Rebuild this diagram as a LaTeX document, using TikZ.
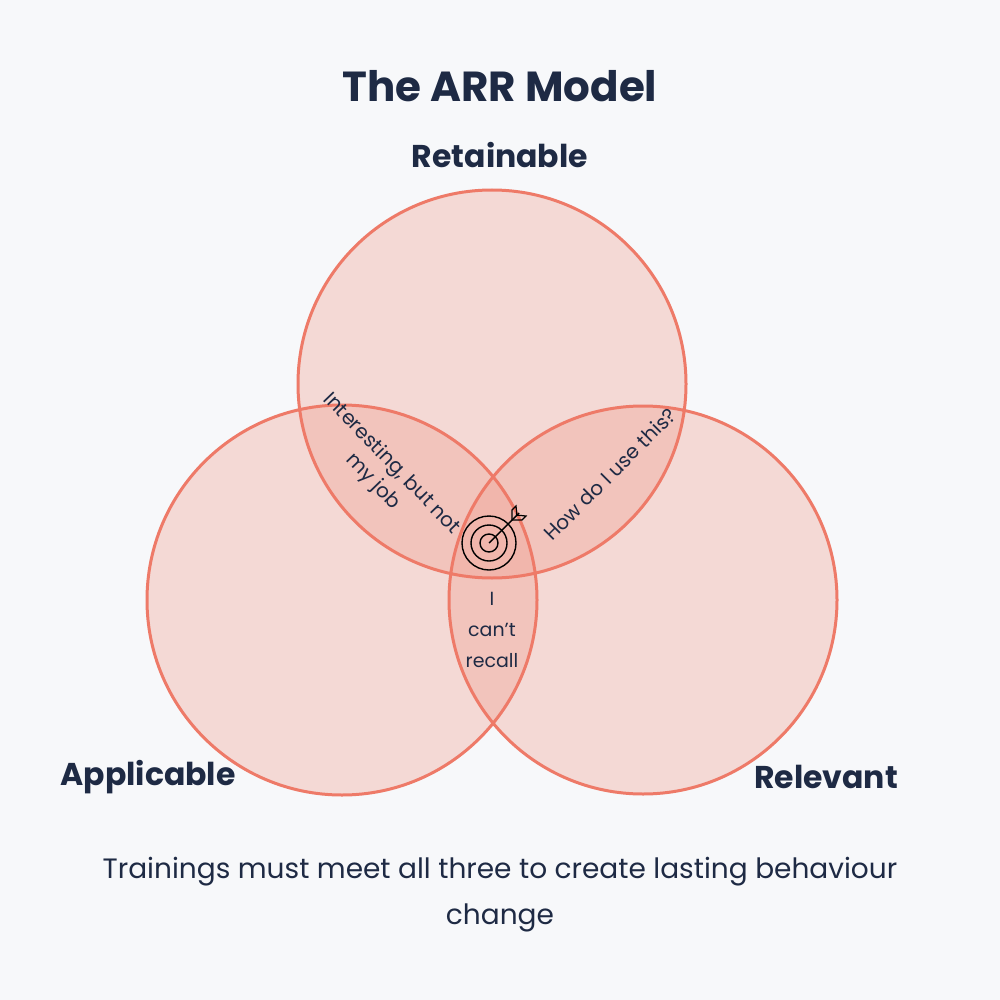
\documentclass[tikz,border=0pt]{standalone}
\usepackage{fontspec}
\setmainfont{Poppins}
\begin{document}
\begin{tikzpicture}[x=1pt,y=-1pt,
  circ/.style={line width=3pt,fill=fillc,fill opacity=0.33},
  lab/.style={font=\fontsize{31.5}{36}\selectfont\bfseries,text=navy},
  small/.style={font=\fontsize{20}{26}\selectfont,text=navy,align=center,inner sep=0pt}]
\definecolor{bgc}{HTML}{F7F8FA}
\definecolor{ringc}{HTML}{EE7A68}
\definecolor{fillc}{HTML}{F09A8C}
\definecolor{navy}{HTML}{1E2A44}
\fill[bgc] (0,0) rectangle (1000,1000);
\useasboundingbox (0,0) rectangle (1000,1000);
\path[circ] (492,384) circle (194) coordinate (cT);
\path[circ] (342,600) circle (195) coordinate (cL);
\path[circ] (643,600) circle (194) coordinate (cR);
\draw[ringc,line width=3pt] (492,384) circle (194) (342,600) circle (195) (643,600) circle (194);
\node[font=\fontsize{42}{48}\selectfont\bfseries,text=navy] (title) at (500,86) {The ARR Model};
\node[lab] (ret) at (500,155) {Retainable};
\node[lab] (app) at (148,777) {Applicable};
\node[lab] (rel) at (826,777) {Relevant};
\node[small,rotate=-46] (int) at (382,473) {Interesting, but not\\my job};
\node[small,rotate=45] (how) at (610,474) {How do I use this?};
\node[small,font=\fontsize{19}{31}\selectfont] (cant) at (492,630) {I\\can't\\recall};
\node[font=\fontsize{28}{46}\selectfont,text=navy,align=center] (sub) at (500,895) {Trainings must meet all three to create lasting behaviour\\change};
\coordinate (tg) at (489,543);
\draw[black,line width=1.4pt] (tg) circle (27) (tg) circle (18) (tg) circle (9);
\coordinate (tip) at (519,513);
\draw[black,line width=1.4pt] (tg) -- (tip);
\draw[black,line width=1.2pt] (512,520) -- (512,510) -- (516,506) -- (517,516) (512,520) -- (522,520) -- (526,516) -- (516,515);
\end{tikzpicture}
\end{document}
